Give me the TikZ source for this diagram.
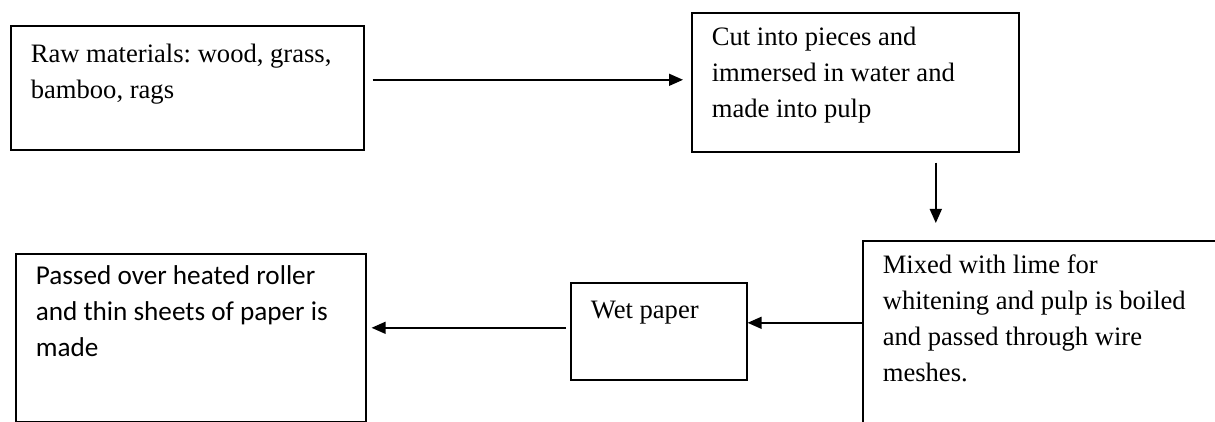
\documentclass[tikz,border=0pt]{standalone}
\usepackage{fontspec}
\setmainfont{Liberation Serif}
\newfontfamily\calfont{Carlito}
\usetikzlibrary{arrows.meta,positioning}
\frenchspacing

\begin{document}
\begin{tikzpicture}[x=0.5pt,y=-0.5pt,
    stage/.style n args={3}{draw,line width=0.8pt,anchor=north west,inner xsep=10pt,inner ysep=0pt,
      align=flush left,text width=#1,text height=#2,text depth=#3,font=\fontsize{13.3}{18}\selectfont},
    flow/.style={-{Triangle[length=7pt,width=6pt]},line width=0.75pt}]
  \useasboundingbox (0,0) rectangle (1215,422);
  % top row
  \node[stage={156.5pt}{18.5pt}{43.5pt}] (raw) at (10,25) {Raw materials: wood, grass,\\bamboo, rags};
  \node[stage={143.5pt}{16.5pt}{53pt}] (cut) at (691,12) {Cut into pieces and\\immersed in water and\\made into pulp};
  % bottom row (right box runs off the page)
  \node[stage={170pt}{16.5pt}{100pt}] (mixed) at (862,240) {Mixed with lime for\\whitening and pulp is boiled\\and passed through wire\\meshes.};
  \node[stage={68pt}{18pt}{30.5pt}] (wet) at (570,282) {Wet paper};
  \node[stage={155pt}{15.5pt}{68.5pt},font=\calfont\fontsize{13.6}{18}\selectfont] (passed) at (15,253)
    {Passed over heated roller\\and thin sheets of paper is\\made};
  % connectors
  \draw[flow,shorten <=4pt,shorten >=4pt] ([yshift=4pt]raw.east) -- ([yshift=4pt]raw.east -| cut.west);
  \draw[flow,shorten <=5pt,shorten >=8.5pt] ([xshift=40.25pt]cut.south) -- ([xshift=40.25pt]cut.south |- mixed.north);
  \draw[flow] ([yshift=4.25pt]wet.east -| mixed.west) -- ([yshift=4.25pt]wet.east);
  \draw[flow,shorten <=2pt,shorten >=2.5pt] ([yshift=1.75pt]wet.west) -- ([yshift=1.75pt]wet.west -| passed.east);
\end{tikzpicture}
\end{document}
